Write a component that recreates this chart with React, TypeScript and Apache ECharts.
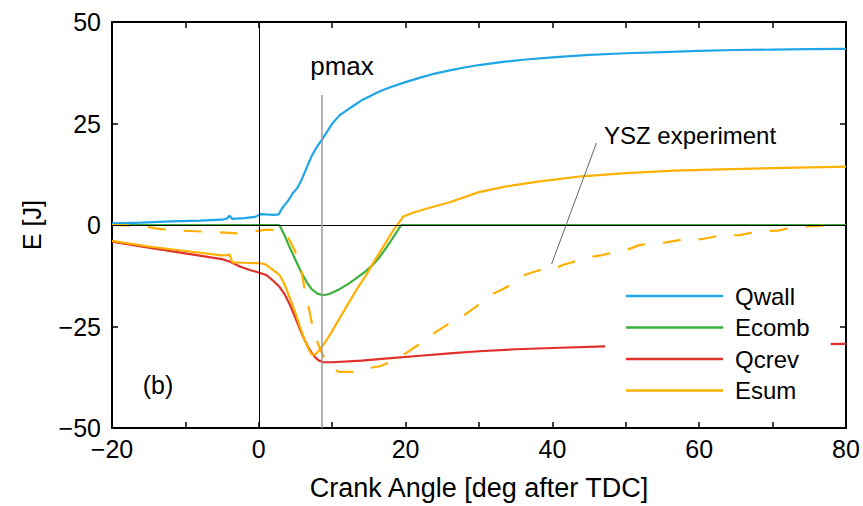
import React, { useEffect, useRef } from "react";
import * as echarts from "echarts";

const FONT = "'Liberation Sans', Arial, Helvetica, sans-serif";

const xTicks = { min: -20, max: 80, interval: 20 };
const yTicks = { min: -50, max: 50, interval: 25 };

const qwall: [number, number][] = [
  [-20, 0.4], [-16, 0.6], [-12, 0.9], [-8, 1.1], [-5, 1.3], [-4.3, 1.6], [-4, 2.3], [-3.6, 1.5],
  [-2, 1.7], [-0.5, 2.0], [0.3, 2.7], [1, 2.6], [2, 2.5], [2.7, 2.6], [3.2, 4.2], [4, 6],
  [4.7, 8], [5.2, 9], [5.8, 11], [6.5, 14], [7.2, 17], [8, 19.5], [8.6, 21], [9.3, 23],
  [10.1, 25.2], [11, 27], [12, 28.3], [13, 29.5], [14, 30.7], [15, 31.6], [16, 32.5], [17, 33.3],
  [18, 34], [20, 35.2], [22, 36.3], [24, 37.3], [26, 38.1], [28, 38.8], [30, 39.4], [33, 40.1],
  [36, 40.7], [40, 41.3], [45, 41.9], [50, 42.3], [55, 42.6], [60, 42.9], [65, 43.1], [70, 43.2],
  [75, 43.3], [80, 43.4],
];

const ecomb: [number, number][] = [
  [-20, 0], [2.8, 0], [3.5, -2.5], [4.2, -5.5], [5, -8.6], [5.8, -11.7], [6.5, -14], [7.2, -15.8],
  [8, -16.9], [8.8, -17.3], [9.6, -17], [11, -15.8], [12.2, -14.5], [13.3, -13.1], [14.5, -11.5],
  [15.6, -9.7], [16.5, -7.8], [17.4, -5.5], [18.4, -2.8], [19.4, 0], [80, 0],
];

const qcrev: [number, number][] = [
  [-20, -4.1], [-15, -5.6], [-10, -7.0], [-5, -8.4], [-4, -9.0], [-2.5, -10.3], [-1, -11.2],
  [0, -11.7], [1, -12.3], [2, -13.8], [2.8, -15.2], [3.5, -17], [4.2, -19.5], [4.9, -22.5],
  [5.5, -25.2], [6.1, -27.8], [6.7, -30], [7.2, -31.5], [7.7, -32.6], [8.2, -33.4], [8.8, -33.8],
  [10, -33.8], [14, -33.4], [18, -32.8], [22, -32.2], [26, -31.6], [30, -31.1], [35, -30.6],
  [40, -30.3], [47, -29.9], [55, -29.7], [65, -29.5], [80, -29.3],
];

const esum: [number, number][] = [
  [-20, -3.9], [-15, -5.3], [-10, -6.4], [-5, -7.5], [-4.3, -7.4], [-4, -7.2], [-3.6, -9.2],
  [-2, -9.3], [0, -9.4], [0.8, -9.6], [1.5, -10.5], [2.4, -11.7], [2.9, -12.5], [3.5, -14.6],
  [4.2, -17.8], [4.9, -21.2], [5.6, -25], [6.3, -28.6], [6.8, -30.6], [7.2, -31.9], [7.7, -31.9],
  [8.3, -30.7], [9, -29], [9.7, -27], [11, -23], [12.4, -18.7], [13.5, -15.4], [14.7, -12.1],
  [15.8, -8.7], [16.9, -5.5], [18.3, -1.4], [19.7, 2.1], [21, 3], [22.8, 4.0], [26, 5.6],
  [30, 8.1], [33.7, 9.5], [38, 10.7], [44, 12], [50, 12.8], [56.5, 13.4], [63, 13.7], [70, 14],
  [75, 14.2], [80, 14.4],
];

const esumExp: [number, number][] = [
  [-20, 0], [-18, -0.1], [-16, -0.3], [-13.3, -1.0], [-10.5, -1.4], [-7.8, -1.6], [-5.2, -1.8],
  [-2.6, -2.1], [-1.2, -1.9], [0, -1.4], [1, -1.2], [2.9, -1.2], [3.6, -2], [4.2, -3.8],
  [4.9, -6.3], [5.4, -9], [5.8, -11.3], [6.3, -16.3], [6.9, -21.2], [7.5, -26.6], [8.3, -30.3],
  [9, -33], [9.6, -34.8], [10.1, -35.6], [11, -36.2], [12.4, -36.2], [13.5, -36], [15.1, -35.2],
  [16.5, -34.8], [17.6, -34], [19, -32.7], [20.1, -31.5], [21.5, -29.8], [22.8, -28.2],
  [24, -26.5], [25.1, -25.2], [26.3, -23.8], [27.4, -22.9], [28.6, -21.4], [29.7, -20],
  [30.7, -18.5], [31.7, -17.1], [33, -16], [34.2, -14.9], [35.2, -13.3], [36.2, -12.3],
  [37.5, -11.5], [38.7, -10.9], [39.5, -10.4], [40.5, -10.6], [41.5, -9.8], [42.8, -9.1],
  [44, -8.5], [45.5, -7.8], [46.8, -7.4], [47.8, -7.0], [49, -6.5], [50.3, -6.0], [51.9, -4.9],
  [53, -4.7], [55.5, -4.3], [58, -3.5], [60.3, -3.5], [62.8, -2.6], [65.5, -2.5], [68, -1.6],
  [70.7, -1.4], [73.2, -0.4], [76.2, -0.2], [78.7, 0],
];

const pmaxAngle = 8.6;
const pmaxTop = 32;
const yszPointer: [number, number][] = [[46, 20.2], [39.9, -9.6]];

const legendNames = ["Qwall", "Ecomb", "Qcrev", "Esum"];
const colors = { Qwall: "#1ea6e6", Ecomb: "#3bb03b", Qcrev: "#e0302a", Esum: "#ffb000" };

const minus = (v: number) => String(v).replace("-", "\u2212");

export default function App() {
  const ref = useRef<HTMLDivElement>(null);
  useEffect(() => {
    if (!ref.current) return;
    const chart = echarts.init(ref.current, undefined, { renderer: "svg" });
    const axisLine = { show: true, onZero: false, lineStyle: { color: "#000", width: 2 } };
    const tick = { show: true, inside: true, length: 6, lineStyle: { color: "#000", width: 1.5 } };
    const minorTick = { show: true, splitNumber: 2, length: 6, lineStyle: { color: "#000", width: 1.5 } };
    const line = (name: string, data: [number, number][], color: string, extra: any = {}) => ({
      name,
      type: "line",
      data,
      symbol: "none",
      smooth: false,
      lineStyle: { color, width: 2.2, ...(extra.lineStyle || {}) },
      itemStyle: { color },
      z: extra.z ?? 2,
    });
    chart.setOption({
      animation: false,
      textStyle: { fontFamily: FONT },
      grid: { left: 112, right: 17, top: 22, bottom: 78, containLabel: false },
      xAxis: [
        {
          type: "value", position: "bottom", ...xTicks,
          axisLine, axisTick: tick, minorTick, splitLine: { show: false },
          axisLabel: { fontSize: 25, color: "#000", margin: 8, fontFamily: FONT, formatter: minus },
          name: "Crank Angle [deg after TDC]", nameLocation: "middle", nameGap: 46,
          nameTextStyle: { fontSize: 27, color: "#000", fontFamily: FONT },
        },
        {
          type: "value", position: "top", ...xTicks,
          axisLine, axisTick: tick, minorTick, splitLine: { show: false }, axisLabel: { show: false },
        },
      ],
      yAxis: [
        {
          type: "value", position: "left", ...yTicks,
          axisLine, axisTick: tick, splitLine: { show: false },
          axisLabel: { fontSize: 25, color: "#000", margin: 11, fontFamily: FONT, formatter: minus },
          name: "E [J]", nameLocation: "middle", nameGap: 68,
          nameTextStyle: { fontSize: 25, color: "#000", fontFamily: FONT },
        },
        {
          type: "value", position: "right", ...yTicks,
          axisLine, axisTick: tick, splitLine: { show: false }, axisLabel: { show: false },
        },
      ],
      legend: {
        data: legendNames,
        orient: "vertical",
        left: 605,
        top: 276,
        padding: [8, 21, 8, 21],
        backgroundColor: "#fff",
        icon: "rect",
        itemWidth: 97,
        itemHeight: 2.5,
        itemGap: 7.5,
        textStyle: { fontSize: 24, color: "#000", fontFamily: FONT, lineHeight: 24, padding: [0, 0, 0, 7] },
        selectedMode: false,
      },
      series: [
        {
          name: "refs",
          type: "line",
          data: [],
          z: 3,
          silent: true,
          markLine: {
            silent: true,
            symbol: ["none", "none"],
            label: { show: false },
            animation: false,
            data: [
              { xAxis: 0, lineStyle: { color: "#000", width: 1, type: "solid" } },
              { yAxis: 0, lineStyle: { color: "#000", width: 1, type: "solid" } },
              [
                { coord: [pmaxAngle, pmaxTop], lineStyle: { color: "#999", width: 1.5, type: "solid" } },
                { coord: [pmaxAngle, yTicks.min] },
              ],
              [
                { coord: yszPointer[0], lineStyle: { color: "#666", width: 1, type: "solid" } },
                { coord: yszPointer[1] },
              ],
            ],
          },
        },
        line("Qwall", qwall, colors.Qwall),
        line("Ecomb", ecomb, colors.Ecomb, { z: 1 }),
        line("Qcrev", qcrev, colors.Qcrev),
        line("Esum", esum, colors.Esum),
        {
          ...line("Esum experiment", esumExp, colors.Esum),
          lineStyle: { color: colors.Esum, width: 2.2, type: [18, 18] },
        },
      ],
      graphic: [
        { type: "text", x: 342, y: 66, style: { text: "pmax", fontSize: 26, fontFamily: FONT, fill: "#000", align: "center", verticalAlign: "middle" } },
        { type: "text", x: 604, y: 135, style: { text: "YSZ experiment", fontSize: 24, fontFamily: FONT, fill: "#000", align: "left", verticalAlign: "middle" } },
        { type: "text", x: 158, y: 385, style: { text: "(b)", fontSize: 25, fontFamily: FONT, fill: "#000", align: "center", verticalAlign: "middle" } },
      ],
    });
    return () => chart.dispose();
  }, []);
  return <div ref={ref} style={{ position: "fixed", left: 0, top: 0, width: 863, height: 506, background: "#fff" }} />;
}
